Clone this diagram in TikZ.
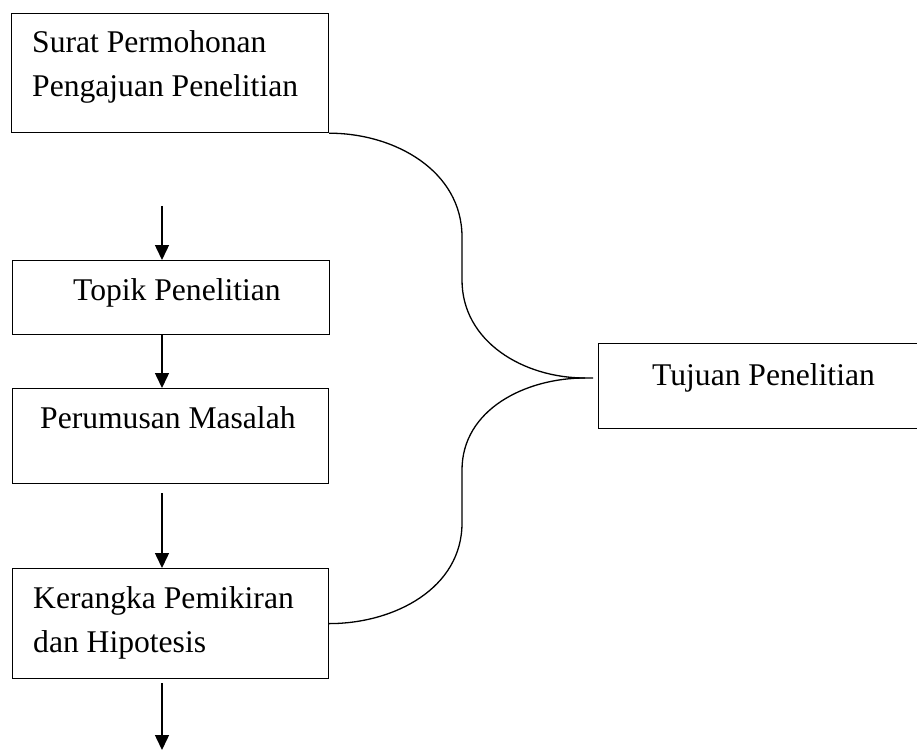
\documentclass[tikz,border=0pt]{standalone}
\usepackage{fontspec}
\setmainfont{Liberation Serif}
\usetikzlibrary{arrows.meta,calc}
\begin{document}
\begin{tikzpicture}[x=1pt,y=1pt]
            \tikzstyle{kotak}=[draw=black, line width=1.2pt, inner sep=0pt, anchor=north west]
            \tikzstyle{tulisan}=[inner sep=0pt, anchor=base west, font=\fontsize{31.6}{44}\selectfont, align=flush left]
            \tikzstyle{panah}=[black, line width=1.5pt, -{Triangle[length=15pt,width=14pt]}]
            \tikzstyle{garis}=[black, line width=1.3pt]
            \useasboundingbox (0,0) rectangle (917,-751);
            \node [kotak, minimum width=317pt, minimum height=119pt] (surat) at (11,-13) {};
            \node [tulisan, text width=295pt] (surat-t) at (32,-53) {Surat Permohonan\\Pengajuan Penelitian};
            \node [kotak, minimum width=317pt, minimum height=74pt] (topik) at (12,-260) {};
            \node [tulisan] (topik-t) at (73,-300) {Topik Penelitian};
            \node [kotak, minimum width=316pt, minimum height=95pt] (masalah) at (12,-388) {};
            \node [tulisan] (masalah-t) at (40,-428) {Perumusan Masalah};
            \node [kotak, minimum width=316pt, minimum height=110pt] (kerangka) at (12,-568) {};
            \node [tulisan, text width=295pt] (kerangka-t) at (33,-608) {Kerangka Pemikiran\\dan Hipotesis};
            \node [kotak, minimum width=330pt, minimum height=85pt] (tujuan) at (598,-343) {};
            \node [tulisan] (tujuan-t) at (652,-385) {Tujuan Penelitian};
            \coordinate (a1) at (162,-206);
            \coordinate (a2) at (162,-334);
            \coordinate (a3) at (162,-493);
            \coordinate (a4) at (162,-683);
            \coordinate (a5) at (162,-750);
            \draw [panah] (a1) -- (a1 |- topik.north);
            \draw [panah] (a2 |- topik.south) -- (a2 |- masalah.north);
            \draw [panah] (a3) -- (a3 |- kerangka.north);
            \draw [panah] (a4) -- (a5);
            \coordinate (temu) at (585,-378);
            \coordinate (ujung) at (593,-378);
            \draw [garis] (surat.south east) to[out=0,in=90] (462,-237) -- (462,-280) to[out=-90,in=180] (temu) -- (ujung);
            \draw [garis] (kerangka.east) to[out=0,in=-90] (462,-523) -- (462,-470) to[out=90,in=180] (temu);
\end{tikzpicture}
\end{document}
